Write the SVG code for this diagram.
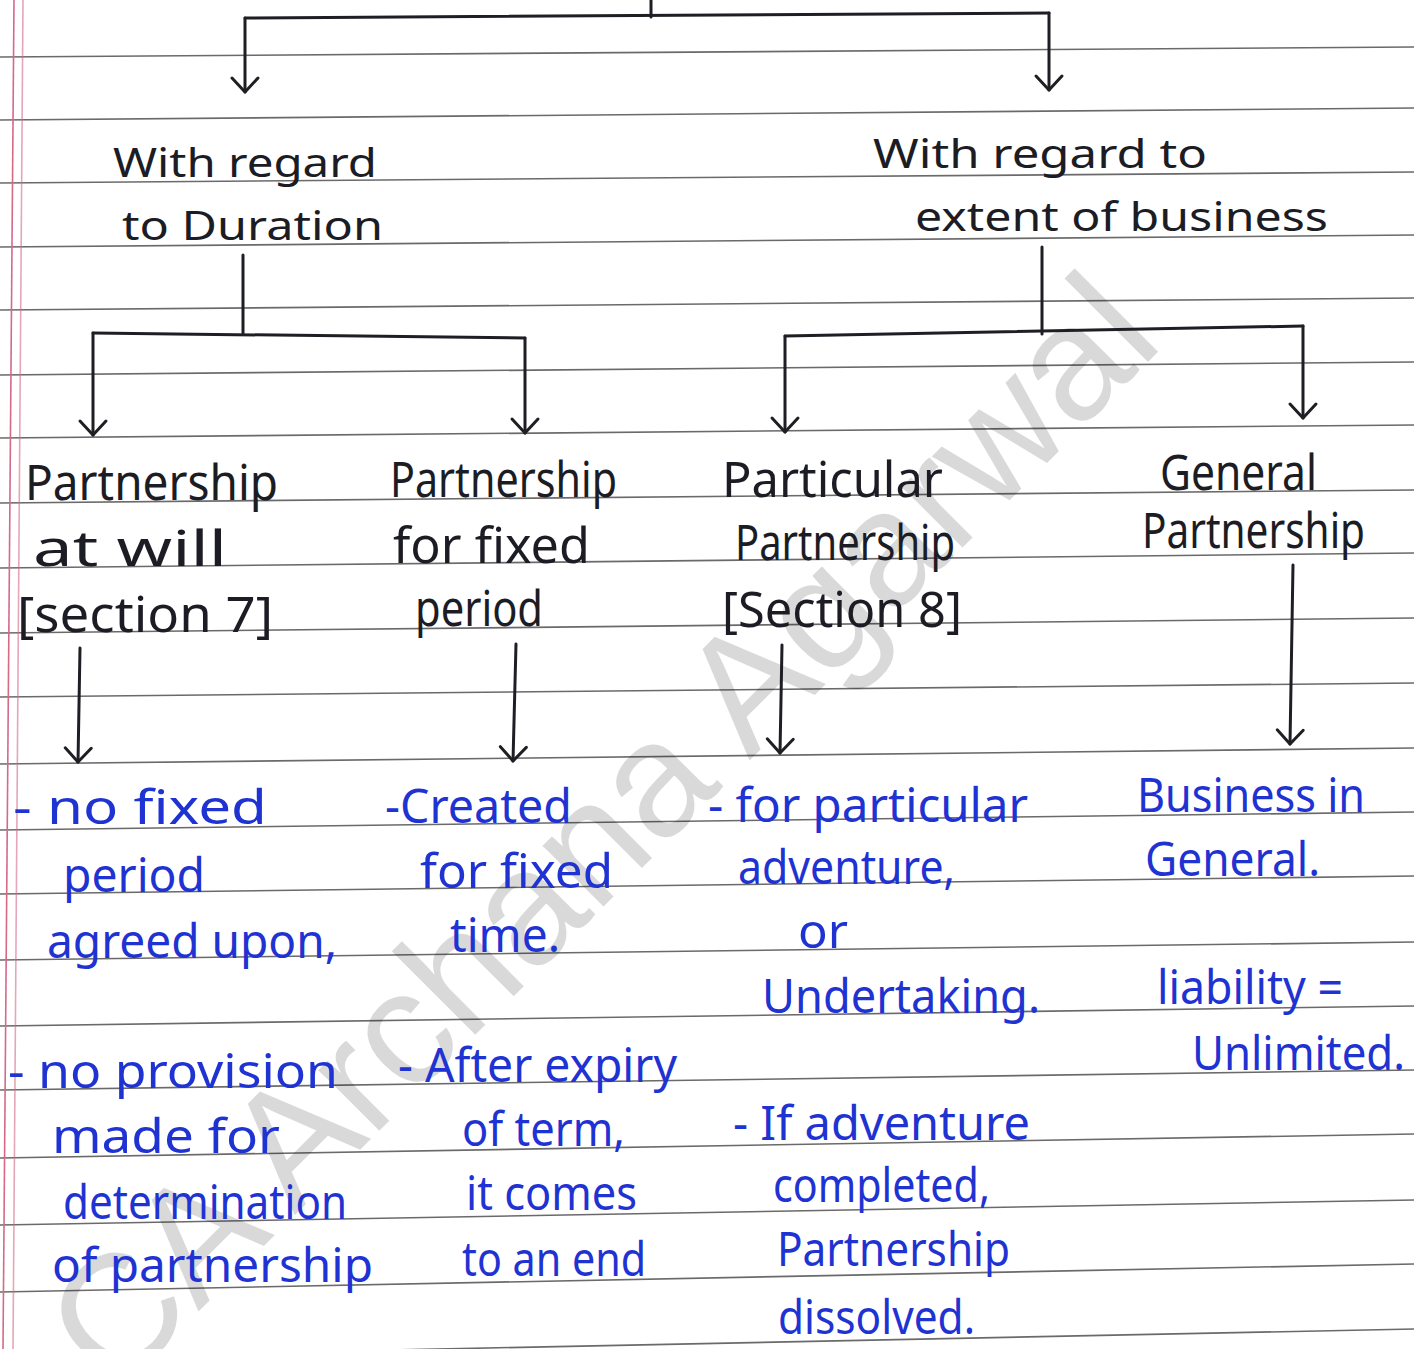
<svg xmlns="http://www.w3.org/2000/svg" width="1414" height="1349" viewBox="0 0 1414 1349">
  <defs>
    <marker id="vhead" markerUnits="userSpaceOnUse" markerWidth="40" markerHeight="40" refX="0" refY="0" orient="auto" viewBox="-20 -20 40 40" overflow="visible">
      <path d="M-14,-13 L0,0 L-14,13" fill="none" stroke="#1e1e24" stroke-width="3" stroke-linecap="round" stroke-linejoin="round"/>
    </marker>
    <style>
      .rule { stroke: #6a6a6a; stroke-width: 1.6; fill: none; }
      .margin { stroke: #d46a88; stroke-width: 1.6; fill: none; }
      .wm { font-family: "Liberation Sans", Arial, sans-serif; font-size: 163px; fill: #000; fill-opacity: 0.15; }
      .ink { font-family: "Noto Sans", "Liberation Sans", sans-serif; fill: #1c1c24; }
      .h1 { font-size: 40px; }
      .h2 { font-size: 50px; }
      .blue { font-family: "Noto Sans", "Liberation Sans", sans-serif; fill: #1f33d2; font-size: 48px; }
      .conn { stroke: #1e1e24; stroke-width: 3; fill: none; stroke-linecap: round; }
      .arrow { marker-end: url(#vhead); }
    </style>
  </defs>

  <!-- notebook paper -->
  <rect x="0" y="0" width="1414" height="1349" fill="#ffffff"/>
  <g id="ruling">
    <line class="rule" x1="0" y1="57" x2="1414" y2="47"/>
    <line class="rule" x1="0" y1="120" x2="1414" y2="108"/>
    <line class="rule" x1="0" y1="183" x2="1414" y2="172"/>
    <line class="rule" x1="0" y1="247" x2="1414" y2="235"/>
    <line class="rule" x1="0" y1="310" x2="1414" y2="298"/>
    <line class="rule" x1="0" y1="375" x2="1414" y2="362"/>
    <line class="rule" x1="0" y1="438" x2="1414" y2="425"/>
    <line class="rule" x1="0" y1="503" x2="1414" y2="490"/>
    <line class="rule" x1="0" y1="568" x2="1414" y2="553"/>
    <line class="rule" x1="0" y1="633" x2="1414" y2="618"/>
    <line class="rule" x1="0" y1="697" x2="1414" y2="683"/>
    <line class="rule" x1="0" y1="764" x2="1414" y2="748"/>
    <line class="rule" x1="0" y1="830" x2="1414" y2="812"/>
    <line class="rule" x1="0" y1="894" x2="1414" y2="876"/>
    <line class="rule" x1="0" y1="960" x2="1414" y2="942"/>
    <line class="rule" x1="0" y1="1026" x2="1414" y2="1006"/>
    <line class="rule" x1="0" y1="1090" x2="1414" y2="1070"/>
    <line class="rule" x1="0" y1="1158" x2="1414" y2="1134"/>
    <line class="rule" x1="0" y1="1225" x2="1414" y2="1200"/>
    <line class="rule" x1="0" y1="1292" x2="1414" y2="1264"/>
    <line class="rule" x1="0" y1="1358" x2="1414" y2="1329"/>
    <line class="margin" x1="14" y1="0" x2="3" y2="1349"/>
    <line class="margin" x1="23" y1="0" x2="13" y2="1349" stroke-opacity="0.6"/>
  </g>

  <!-- author watermark -->
  <text class="wm" transform="translate(115,1395) rotate(-45)">CA Archana Agarwal</text>

  <!-- connectors -->
  <g id="connectors">
    <line class="conn" x1="651" y1="0" x2="651" y2="17"/>
    <line class="conn" x1="245" y1="18" x2="1049" y2="13"/>
    <line class="conn arrow" x1="245" y1="18" x2="245" y2="92"/>
    <line class="conn arrow" x1="1049" y1="13" x2="1049" y2="90"/>

    <line class="conn" x1="243" y1="255" x2="243" y2="333"/>
    <line class="conn" x1="93" y1="333" x2="525" y2="338"/>
    <line class="conn arrow" x1="93" y1="333" x2="93" y2="435"/>
    <line class="conn arrow" x1="525" y1="338" x2="525" y2="433"/>

    <line class="conn" x1="1042" y1="247" x2="1042" y2="334"/>
    <line class="conn" x1="785" y1="336" x2="1303" y2="326"/>
    <line class="conn arrow" x1="785" y1="336" x2="785" y2="432"/>
    <line class="conn arrow" x1="1303" y1="326" x2="1303" y2="418"/>

    <line class="conn arrow" x1="80" y1="648" x2="78" y2="762"/>
    <line class="conn arrow" x1="516" y1="644" x2="513" y2="761"/>
    <line class="conn arrow" x1="782" y1="645" x2="780" y2="753"/>
    <line class="conn arrow" x1="1293" y1="565" x2="1290" y2="744"/>
  </g>

  <!-- headings -->
  <g id="by-duration">
    <text class="ink h1" x="113" y="177" textLength="264" lengthAdjust="spacingAndGlyphs">With regard</text>
    <text class="ink h1" x="122" y="240" textLength="261" lengthAdjust="spacingAndGlyphs">to Duration</text>
  </g>
  <g id="by-extent">
    <text class="ink h1" x="873" y="168" textLength="334" lengthAdjust="spacingAndGlyphs">With regard to</text>
    <text class="ink h1" x="915" y="231" textLength="413" lengthAdjust="spacingAndGlyphs">extent of business</text>
  </g>

  <!-- kinds of partnership -->
  <g id="at-will">
    <text class="ink h2" x="25" y="500" textLength="253" lengthAdjust="spacingAndGlyphs">Partnership</text>
    <text class="ink h2" x="33" y="566" textLength="194" lengthAdjust="spacingAndGlyphs">at will</text>
    <text class="ink h2" x="17" y="632" textLength="256" lengthAdjust="spacingAndGlyphs">[section 7]</text>
  </g>
  <g id="fixed-period">
    <text class="ink h2" x="390" y="497" textLength="227" lengthAdjust="spacingAndGlyphs">Partnership</text>
    <text class="ink h2" x="393" y="563" textLength="197" lengthAdjust="spacingAndGlyphs">for fixed</text>
    <text class="ink h2" x="415" y="626" textLength="128" lengthAdjust="spacingAndGlyphs">period</text>
  </g>
  <g id="particular">
    <text class="ink h2" x="722" y="497" textLength="221" lengthAdjust="spacingAndGlyphs">Particular</text>
    <text class="ink h2" x="735" y="560" textLength="220" lengthAdjust="spacingAndGlyphs">Partnership</text>
    <text class="ink h2" x="722" y="627" textLength="240" lengthAdjust="spacingAndGlyphs">[Section 8]</text>
  </g>
  <g id="general">
    <text class="ink h2" x="1160" y="490" textLength="157" lengthAdjust="spacingAndGlyphs">General</text>
    <text class="ink h2" x="1142" y="548" textLength="223" lengthAdjust="spacingAndGlyphs">Partnership</text>
  </g>

  <!-- features -->
  <g id="at-will-notes">
    <text class="blue" x="13" y="824" textLength="254" lengthAdjust="spacingAndGlyphs">- no fixed</text>
    <text class="blue" x="63" y="892" textLength="142" lengthAdjust="spacingAndGlyphs">period</text>
    <text class="blue" x="47" y="958" textLength="290" lengthAdjust="spacingAndGlyphs">agreed upon,</text>
    <text class="blue" x="8" y="1088" textLength="330" lengthAdjust="spacingAndGlyphs">- no provision</text>
    <text class="blue" x="52" y="1153" textLength="228" lengthAdjust="spacingAndGlyphs">made for</text>
    <text class="blue" x="63" y="1219" textLength="284" lengthAdjust="spacingAndGlyphs">determination</text>
    <text class="blue" x="52" y="1282" textLength="321" lengthAdjust="spacingAndGlyphs">of partnership</text>
  </g>
  <g id="fixed-period-notes">
    <text class="blue" x="385" y="823" textLength="187" lengthAdjust="spacingAndGlyphs">-Created</text>
    <text class="blue" x="420" y="888" textLength="193" lengthAdjust="spacingAndGlyphs">for fixed</text>
    <text class="blue" x="450" y="952" textLength="110" lengthAdjust="spacingAndGlyphs">time.</text>
    <text class="blue" x="398" y="1082" textLength="279" lengthAdjust="spacingAndGlyphs">- After expiry</text>
    <text class="blue" x="462" y="1146" textLength="163" lengthAdjust="spacingAndGlyphs">of term,</text>
    <text class="blue" x="466" y="1210" textLength="171" lengthAdjust="spacingAndGlyphs">it comes</text>
    <text class="blue" x="462" y="1276" textLength="184" lengthAdjust="spacingAndGlyphs">to an end</text>
  </g>
  <g id="particular-notes">
    <text class="blue" x="708" y="822" textLength="320" lengthAdjust="spacingAndGlyphs">- for particular</text>
    <text class="blue" x="738" y="884" textLength="217" lengthAdjust="spacingAndGlyphs">adventure,</text>
    <text class="blue" x="798" y="948" textLength="50" lengthAdjust="spacingAndGlyphs">or</text>
    <text class="blue" x="762" y="1013" textLength="278" lengthAdjust="spacingAndGlyphs">Undertaking.</text>
    <text class="blue" x="733" y="1140" textLength="297" lengthAdjust="spacingAndGlyphs">- If adventure</text>
    <text class="blue" x="773" y="1202" textLength="217" lengthAdjust="spacingAndGlyphs">completed,</text>
    <text class="blue" x="777" y="1266" textLength="233" lengthAdjust="spacingAndGlyphs">Partnership</text>
    <text class="blue" x="778" y="1334" textLength="197" lengthAdjust="spacingAndGlyphs">dissolved.</text>
  </g>
  <g id="general-notes">
    <text class="blue" x="1137" y="812" textLength="228" lengthAdjust="spacingAndGlyphs">Business in</text>
    <text class="blue" x="1145" y="876" textLength="175" lengthAdjust="spacingAndGlyphs">General.</text>
    <text class="blue" x="1157" y="1004" textLength="186" lengthAdjust="spacingAndGlyphs">liability =</text>
    <text class="blue" x="1192" y="1070" textLength="213" lengthAdjust="spacingAndGlyphs">Unlimited.</text>
  </g>
</svg>
